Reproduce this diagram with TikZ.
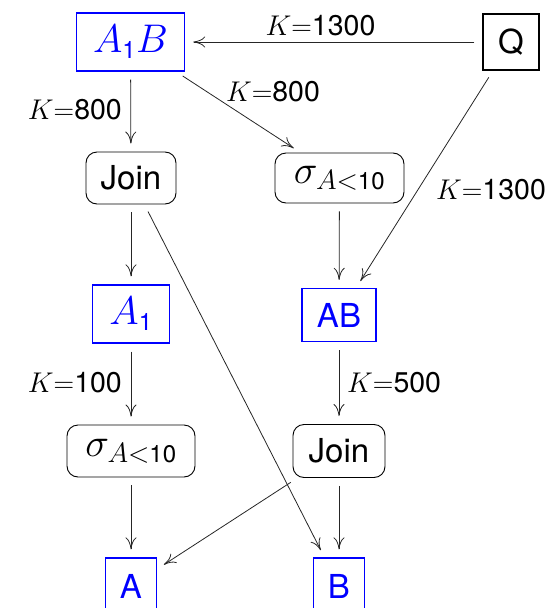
\RequirePackage{fix-cm}
\documentclass[tikz,border=0pt]{standalone}
\usepackage{amsmath}
\usepackage{fontspec}
\setmainfont{TeX Gyre Heros}
\usetikzlibrary{arrows.meta}
\newcommand{\sub}[1]{\mbox{\fontsize{24}{28}\selectfont #1}}
\begin{document}
\begin{tikzpicture}[x=1pt,y=-1pt,
  bluebox/.style={draw=blue,text=blue,line width=1.3pt,inner sep=0pt,font=\fontsize{33}{40}\selectfont},
  blackbox/.style={draw=black,line width=1.1pt,inner sep=0pt,font=\fontsize{33}{40}\selectfont},
  opbox/.style={draw=black,line width=0.9pt,rounded corners=11pt,inner sep=0pt,font=\fontsize{33}{40}\selectfont},
  mathtext/.style={font=\fontsize{40}{48}\selectfont},
  lab/.style={inner sep=0pt,font=\fontsize{28.5}{34}\selectfont},
  conn/.style={line width=0.8pt,draw=black!85,-{To[length=12pt,width=11pt]},shorten >=8pt,shorten <=8pt}]
\useasboundingbox (0,0) rectangle (554,608);
\node[bluebox,mathtext,minimum width=108pt,minimum height=58pt] (A1B) at (130.5,42) {$A_{\sub{1}}B$};
\node[blackbox,minimum width=56pt,minimum height=56pt] (Q) at (511,42) {Q};
\node[opbox,minimum width=90pt,minimum height=52pt] (join1) at (131,178) {Join};
\node[opbox,mathtext,minimum width=129pt,minimum height=50pt] (sig1) at (339.5,178) {$\sigma_{A<\sub{10}}$};
\node[bluebox,mathtext,minimum width=77pt,minimum height=58pt] (A1) at (131,314) {$A_{\sub{1}}$};
\node[bluebox,minimum width=74pt,minimum height=53pt] (AB) at (339,315) {AB};
\node[opbox,mathtext,minimum width=128pt,minimum height=52pt] (sig2) at (131,451) {$\sigma_{A<\sub{10}}$};
\node[opbox,minimum width=92pt,minimum height=53pt] (join2) at (339,451) {Join};
\node[bluebox,minimum width=51pt,minimum height=56pt] (A) at (131,586) {A};
\node[bluebox,minimum width=51pt,minimum height=56pt] (B) at (339,586) {B};

\draw[conn] (Q) -- (A1B);
\draw[conn] (A1B) -- (join1);
\draw[conn] (A1B) -- (sig1);
\draw[conn] (Q) -- (AB);
\draw[conn] (sig1) -- (AB);
\draw[conn] (join1) -- (A1);
\draw[conn] (join1) -- (B);
\draw[conn] (A1) -- (sig2);
\draw[conn] (AB) -- (join2);
\draw[conn] (sig2) -- (A);
\draw[conn] (join2) -- (A);
\draw[conn] (join2) -- (B);

\node[lab] (l1) at (320.5,26) {$K{=}$1300};
\node[lab,anchor=east] (l2) at (122,110) {$K{=}$800};
\node[lab] (l3) at (273,92) {$K{=}$800};
\node[lab] (l4) at (491,190) {$K{=}$1300};
\node[lab,anchor=east] (l5) at (122,383) {$K{=}$100};
\node[lab,anchor=west] (l6) at (347,383) {$K{=}$500};
\end{tikzpicture}
\end{document}
